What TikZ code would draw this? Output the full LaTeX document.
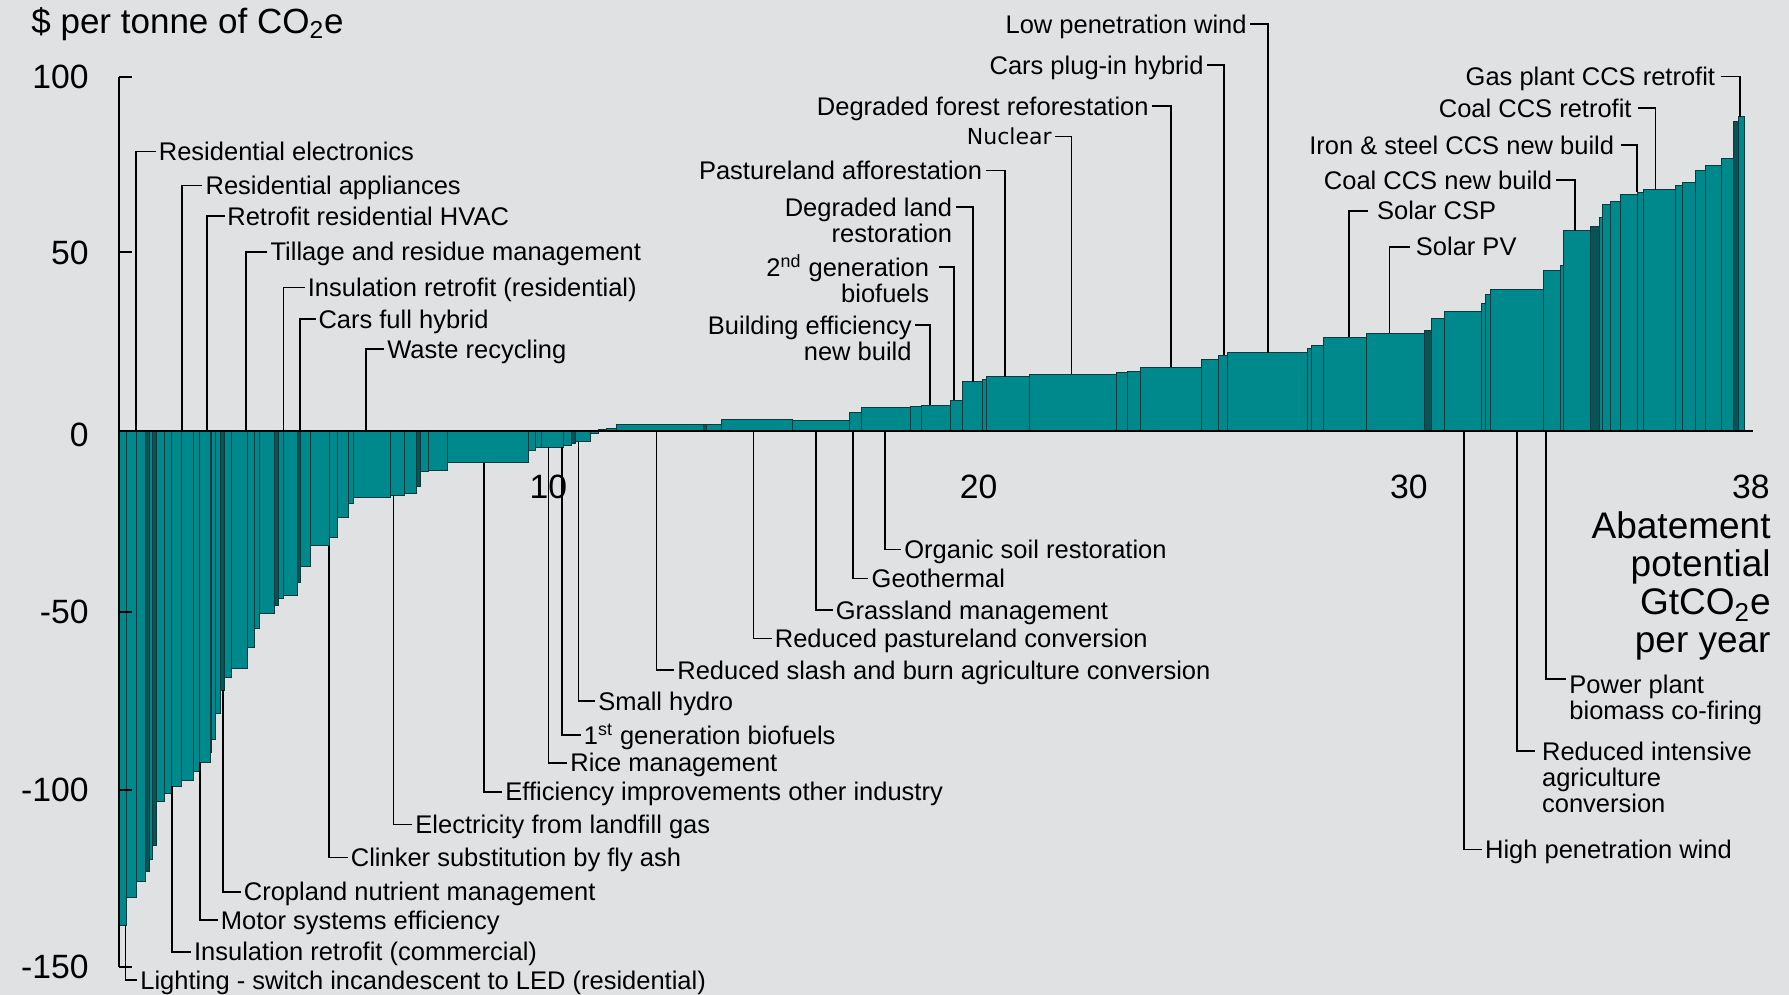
\documentclass[tikz,border=0pt]{standalone}
\usepackage{fontspec}
\setmainfont{Liberation Sans}
\newfontfamily\nucfont{DejaVu Sans}
\newcommand\lblfont{\fontsize{12.75pt}{13pt}\selectfont}
\newcommand\axfont{\fontsize{16.85pt}{18pt}\selectfont}
\definecolor{bg}{RGB}{224,225,227}
\definecolor{tealA}{RGB}{0,137,140}
\definecolor{tealD}{RGB}{10,82,86}
\definecolor{barline}{RGB}{12,58,60}
\begin{document}
\begin{tikzpicture}[x=0.5pt,y=-0.5pt,
  bar/.style={fill=tealA,draw=barline,line width=0.45pt},
  darkbar/.style={fill=tealD,draw=barline,line width=0.45pt},
  conn/.style={draw=black,line width=0.8pt},
  lblL/.style={anchor=west,inner sep=0pt,text height=9.1pt,text depth=0pt,font=\lblfont},
  lblR/.style={anchor=east,inner sep=0pt,text height=9.1pt,text depth=0pt,font=\lblfont},
  mlL/.style={anchor=north west,inner sep=0pt,align=left,font=\lblfont},
  mlR/.style={anchor=north east,inner sep=0pt,align=right,font=\lblfont},
  ylab/.style={anchor=east,inner sep=0pt,font=\axfont},
  xlab/.style={anchor=center,inner sep=0pt,font=\axfont}]
\fill[bg] (0,0) rectangle (1789,995);
\useasboundingbox (0,0) rectangle (1789,995);

% bars
\foreach \a/\b/\c in {
118.5/126/925,126/136/897,136/145/881.4,149.3/152.7/859.3,156.7/164/801.4,
164/171.7/793.2,171.7/181.7/786,181.7/193.3/780.7,193.3/199.3/771.8,199.3/210/762,
211.7/215.3/739.6,215.3/220/713.6,224/231.7/677.9,231.7/247.3/668.9,247.3/254/647.5,
254/259/628.2,259/274.3/613.9,278.3/283.3/598.6,283.3/297.7/595,300.7/310/566.4,
310/329/545.7,329/337.7/537.9,337.7/348.3/517.1,348.3/353.3/503.9,353.3/390/497.9,
390/404/495,404/416.7/493.2,420/428.6/471.7,428.6/447.8/470,447.8/528/462.5,
528/535/450.5,535/541.5/447.3,541.5/563/447,563/571.5/445,575/590.5/441.7,
590.5/598/433,606/616.7/428.5,616.7/703.3/424.5,706.7/721.7/424.5,721.7/792/419,
792/849.6/420,849.6/861.6/412,861.6/910.7/407.7,910.7/921.9/406.7,921.9/950/405,
950/962/400,962/982/381.7,982/986.6/379.3,986.6/1029/376.7,1029/1116/374,
1116/1127/372.7,1127/1140.6/371.3,1140.6/1201/367,1201/1218.5/359.3,1218.5/1227.4/355,
1227.4/1307/352.7,1307/1311/348,1311/1323/345,1323/1366/337.3,1366/1424/333,
1431/1444/318.3,1444/1481/311,1481/1485/303,1485/1490/294,1490/1543/289.5,
1543/1560/270.7,1560/1563.5/265,1563.5/1590/230.5,1599/1602/217,1602/1610/204,
1610/1620/201,1620/1637/194.5,1637/1643/192,1643/1675/189.5,1675/1682/185.5,
1682/1695.5/182.5,1695.5/1705/170.5,1705/1721/165.5,1721/1733/158.3,1738/1744/116.7}
{\path[bar] (\a,431) rectangle (\b,\c);}
\foreach \a/\b/\c in {
145/149.3/871.8,152.7/156.7/845,210/211.7/752,220/224/690,274.3/278.3/605.7,
297.7/300.7/582.5,416.7/420/486,571.5/575/443,598/606/429.5,703.3/706.7/424.5,
1424/1431/330,1590/1599/226,1733/1738/121.7}
{\path[darkbar] (\a,431) rectangle (\b,\c);}

% axes
\draw[line width=1pt] (119,77.3) -- (119,966.7);
\foreach \t in {77.3,251.7,431,611.7,790,966.7}{\draw[line width=1pt] (119,\t) -- (132,\t);}
\draw[line width=1.25pt] (119,431) -- (1753,431);

\node[anchor=base west,inner sep=0pt,font=\fontsize{17.5pt}{19pt}\selectfont] (title) at (31,33.3) {\$ per tonne of CO\textsubscript{2}e};
\node[ylab] (y100) at (89,77) {100};
\node[ylab] (y50) at (89,253) {50};
\node[ylab] (y0) at (89,435) {0};
\node[ylab] (ym50) at (89,612) {-50};
\node[ylab] (ym100) at (89,789.5) {-100};
\node[ylab] (ym150) at (89,966.5) {-150};
\node[xlab] (x10) at (548.4,487) {10};
\node[xlab] (x20) at (978.6,487) {20};
\node[xlab] (x30) at (1408.8,487) {30};
\node[ylab] (x38) at (1770,487) {38};
\node[anchor=north east,inner sep=0pt,align=right,font=\fontsize{18.5pt}{19pt}\selectfont] (abat) at (1771,511.7) {Abatement\\potential\\GtCO\textsubscript{2}e\\per year};

% top-left labels
\coordinate (c1) at (135.9,431);
\node[lblL] (l1) at (158.5,151.7) {Residential electronics};
\draw[conn] ([xshift=-1.5pt]l1.west) -| (c1);
\coordinate (c2) at (181.8,431);
\node[lblL] (l2) at (205.2,185.7) {Residential appliances};
\draw[conn] ([xshift=-1.5pt]l2.west) -| (c2);
\coordinate (c3) at (207,431);
\node[lblL] (l3) at (227,216) {Retrofit residential HVAC};
\draw[conn] ([xshift=-1pt]l3.west) -| (c3);
\coordinate (c4) at (246,431);
\node[lblL] (l4) at (270.2,251.7) {Tillage and residue management};
\draw[conn] ([xshift=-1.5pt]l4.west) -| (c4);
\coordinate (c5) at (283.6,431);
\node[lblL] (l5) at (307.5,287.3) {Insulation retrofit (residential)};
\draw[conn] ([xshift=-1.5pt]l5.west) -| (c5);
\coordinate (c6) at (299.7,431);
\node[lblL] (l6) at (318.1,319) {Cars full hybrid};
\draw[conn] ([xshift=-1pt]l6.west) -| (c6);
\coordinate (c7) at (366.2,431);
\node[lblL] (l7) at (386.9,349) {Waste recycling};
\draw[conn] ([xshift=-1.5pt]l7.west) -| (c7);

% bottom-left labels
\coordinate (c8) at (125.5,925);
\node[lblL] (l8) at (140,980) {Lighting - switch incandescent to LED (residential)};
\draw[conn] ([xshift=-1.5pt]l8.west) -| (c8);
\coordinate (c9) at (172.2,786);
\node[lblL] (l9) at (193.7,951.7) {Insulation retrofit (commercial)};
\draw[conn] ([xshift=-1.5pt]l9.west) -| (c9);
\coordinate (c10) at (200,762);
\node[lblL] (l10) at (220.5,920) {Motor systems efficiency};
\draw[conn] ([xshift=-1.5pt]l10.west) -| (c10);
\coordinate (c11) at (223,690);
\node[lblL] (l11) at (243.5,891.7) {Cropland nutrient management};
\draw[conn] ([xshift=-1.5pt]l11.west) -| (c11);
\coordinate (c12) at (329,545.7);
\node[lblL] (l12) at (350.5,857.3) {Clinker substitution by fly ash};
\draw[conn] ([xshift=-1.5pt]l12.west) -| (c12);
\coordinate (c13) at (393.4,495);
\node[lblL] (l13) at (415,824.3) {Electricity from landfill gas};
\draw[conn] ([xshift=-1.5pt]l13.west) -| (c13);
\coordinate (c14) at (484,462.5);
\node[lblL] (l14) at (505,791.7) {Efficiency improvements other industry};
\draw[conn] ([xshift=-1.5pt]l14.west) -| (c14);
\coordinate (c15) at (548.4,447);
\node[lblL] (l15) at (570,762.7) {Rice management};
\draw[conn] ([xshift=-1.5pt]l15.west) -| (c15);
\coordinate (c16) at (562,447);
\node[lblL] (l16) at (583.5,735) {1\textsuperscript{st} generation biofuels};
\draw[conn] ([xshift=-1.5pt]l16.west) -| (c16);
\coordinate (c17) at (578.3,441.7);
\node[lblL] (l17) at (598,701) {Small hydro};
\draw[conn] ([xshift=-1.5pt]l17.west) -| (c17);
\coordinate (c18) at (656.5,431);
\node[lblL] (l18) at (677,670) {Reduced slash and burn agriculture conversion};
\draw[conn] ([xshift=-1.5pt]l18.west) -| (c18);
\coordinate (c19) at (753.6,431);
\node[lblL] (l19) at (774.5,638.3) {Reduced pastureland conversion};
\draw[conn] ([xshift=-1.5pt]l19.west) -| (c19);
\coordinate (c20) at (816,431);
\node[lblL] (l20) at (835.5,610) {Grassland management};
\draw[conn] ([xshift=-1.5pt]l20.west) -| (c20);
\coordinate (c21) at (852.7,431);
\node[lblL] (l21) at (871.3,578.3) {Geothermal};
\draw[conn] ([xshift=-1.5pt]l21.west) -| (c21);
\coordinate (c22) at (884.8,431);
\node[lblL] (l22) at (904,549.3) {Organic soil restoration};
\draw[conn] ([xshift=-1.5pt]l22.west) -| (c22);

% top-middle labels
\coordinate (c23) at (1268.2,352.7);
\node[lblR] (l23) at (1247,24) {Low penetration wind};
\draw[conn] ([xshift=1.5pt]l23.east) -| (c23);
\coordinate (c24) at (1224.2,355);
\node[lblR] (l24) at (1204,65) {Cars plug-in hybrid};
\draw[conn] ([xshift=1.5pt]l24.east) -| (c24);
\coordinate (c25) at (1171,367);
\node[lblR] (l25) at (1149,106) {Degraded forest reforestation};
\draw[conn] ([xshift=1.5pt]l25.east) -| (c25);
\coordinate (c26) at (1071.6,374);
\node[anchor=east,inner sep=0pt,text height=8pt,text depth=0pt,font=\nucfont\fontsize{11pt}{12pt}\selectfont] (l26) at (1052,136.7) {Nuclear};
\draw[conn] ([xshift=1.5pt]l26.east) -| (c26);
\coordinate (c27) at (1005.2,376.7);
\node[lblR] (l27) at (982.5,170.7) {Pastureland afforestation};
\draw[conn] ([xshift=1.5pt]l27.east) -| (c27);
\coordinate (c28) at (972.9,381.7);
\node[mlR] (l28) at (952.5,197.7) {Degraded land\\restoration};
\draw[conn] ([xshift=1.5pt,yshift=-4.5pt]l28.north east) -| (c28);
\coordinate (c29) at (954.2,400);
\node[mlR] (l29) at (929.5,257.7) {2\textsuperscript{\smash{nd}} generation\\biofuels};
\draw[conn] ([xshift=4.5pt,yshift=-4.5pt]l29.north east) -| (c29);
\coordinate (c30) at (930,405);
\node[mlR] (l30) at (912,316) {Building efficiency\\new build};
\draw[conn] ([xshift=1.5pt,yshift=-4.5pt]l30.north east) -| (c30);

% top-right labels
\coordinate (c31) at (1740,116.7);
\node[lblR] (l31) at (1715.5,76.7) {Gas plant CCS retrofit};
\draw[conn] ([xshift=2.5pt]l31.east) -| (c31);
\coordinate (c32) at (1655.3,189.5);
\node[lblR] (l32) at (1632,108.3) {Coal CCS retrofit};
\draw[conn] ([xshift=3pt]l32.east) -| (c32);
\coordinate (c33) at (1637,192);
\node[lblR] (l33) at (1614.5,145) {Iron \& steel CCS new build};
\draw[conn] ([xshift=3pt]l33.east) -| (c33);
\coordinate (c34) at (1575,230.5);
\node[lblR] (l34) at (1552.5,180) {Coal CCS new build};
\draw[conn] ([xshift=1.5pt]l34.east) -| (c34);
\coordinate (c35) at (1348.9,337.3);
\node[lblL] (l35) at (1376.7,210.7) {Solar CSP};
\draw[conn] ([xshift=-4.3pt]l35.west) -| (c35);
\coordinate (c36) at (1389.6,333);
\node[lblL] (l36) at (1415.5,246.7) {Solar PV};
\draw[conn] ([xshift=-2.8pt]l36.west) -| (c36);

% bottom-right labels
\coordinate (c37) at (1463.8,431);
\node[lblL] (l37) at (1484.7,849.3) {High penetration wind};
\draw[conn] ([xshift=-1.5pt]l37.west) -| (c37);
\coordinate (c38) at (1516.7,431);
\node[mlL] (l38) at (1541.7,742) {Reduced intensive\\agriculture\\conversion};
\draw[conn] ([xshift=-3.3pt,yshift=-4.5pt]l38.north west) -| (c38);
\coordinate (c39) at (1546,431);
\node[mlL] (l39) at (1569,675) {Power plant\\biomass co-firing};
\draw[conn] ([xshift=-1.5pt,yshift=-2pt]l39.north west) -| (c39);
\end{tikzpicture}
\end{document}
